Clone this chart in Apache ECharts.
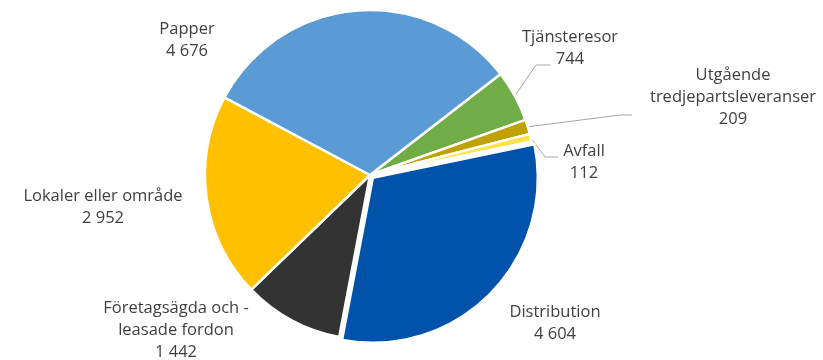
<!DOCTYPE html>
<html>
<head>
<meta charset="utf-8">
<script src="https://cdn.jsdelivr.net/npm/echarts@6/dist/echarts.min.js"></script>
<style>
  html, body { margin: 0; padding: 0; background: #ffffff; }
  #chart { width: 823px; height: 360px; }
</style>
</head>
<body>
<div id="chart"></div>
<script>
// Emission sources (categories) and their values, drawn clockwise
const categories = [
  'Tjänsteresor',
  'Utgående\ntredjepartsleveranser',
  'Avfall',
  'Distribution',
  'Företagsägda och -\nleasade fordon',
  'Lokaler eller område',
  'Papper'
];
const values = [744, 209, 112, 4604, 1442, 2952, 4676];
const colors = ['#70AD47', '#BFA100', '#FFE24A', '#0052AA', '#333333', '#FFC000', '#5B9BD5'];

// The slice pulled slightly out of the pie
const explodedName = 'Distribution';

// Label placement (centre of each label block) and leader-line bends
const labelPos = [
  { x: 570, y: 48, line: [[536, 65], [550, 65]] },
  { x: 733, y: 97, line: [[620, 115], [632, 115]] },
  { x: 584, y: 162, line: [[545, 157], [558, 157]] },
  { x: 555, y: 323 },
  { x: 176, y: 330 },
  { x: 103, y: 207 },
  { x: 187, y: 40 }
];

const CX = 370, CY = 175, R = 165, START = 37.7, EXPLODE = 4;

// Swedish thousands separator (space)
function fmt(v) {
  return String(v).replace(/\B(?=(\d{3})+(?!\d))/g, ' ');
}

// Mid angle of the exploded slice, to offset its centre
const total = values.reduce((a, b) => a + b, 0);
const exIdx = categories.indexOf(explodedName);
const before = values.slice(0, exIdx).reduce((a, b) => a + b, 0);
const midDeg = START - (before + values[exIdx] / 2) / total * 360;
const exDx = Math.cos(midDeg * Math.PI / 180) * EXPLODE;
const exDy = -Math.sin(midDeg * Math.PI / 180) * EXPLODE;

const hidden = { color: 'rgba(0,0,0,0)', borderWidth: 0 };

// Base pie: every slice except the exploded one; carries all labels
const baseData = categories.map((name, i) => ({
  name: name,
  value: values[i],
  itemStyle: i === exIdx ? hidden : { color: colors[i] },
  labelLine: { show: !!labelPos[i].line }
}));

// Overlay pie: only the exploded slice is drawn, shifted outwards
const explodedData = categories.map((name, i) => ({
  name: name,
  value: values[i],
  itemStyle: i === exIdx ? { color: colors[i] } : hidden
}));

const chart = echarts.init(document.getElementById('chart'), null, { renderer: 'canvas' });
chart.setOption({
  backgroundColor: '#ffffff',
  animation: false,
  series: [{
    type: 'pie',
    center: [CX, CY],
    radius: R,
    startAngle: START,
    clockwise: true,
    avoidLabelOverlap: false,
    itemStyle: { borderColor: '#ffffff', borderWidth: 2.5 },
    emphasis: { disabled: true },
    label: {
      show: true,
      position: 'outside',
      formatter: p => p.name + '\n' + fmt(p.value),
      fontFamily: 'Open Sans',
      fontSize: 16.5,
      lineHeight: 22,
      color: '#404040',
      align: 'center'
    },
    labelLine: {
      show: true,
      length: 10,
      length2: 10,
      lineStyle: { color: '#A6A6A6', width: 1 }
    },
    labelLayout: function (params) {
      const pos = labelPos[params.dataIndex];
      const out = { x: pos.x, y: pos.y, align: 'center', verticalAlign: 'middle' };
      if (pos.line && params.labelLinePoints) {
        out.labelLinePoints = [params.labelLinePoints[0]].concat(pos.line);
      }
      return out;
    },
    data: baseData
  }, {
    type: 'pie',
    center: [CX + exDx, CY + exDy],
    radius: R,
    startAngle: START,
    clockwise: true,
    silent: true,
    itemStyle: { borderColor: '#ffffff', borderWidth: 2.5 },
    emphasis: { disabled: true },
    label: { show: false },
    labelLine: { show: false },
    data: explodedData
  }]
});
</script>
</body>
</html>
